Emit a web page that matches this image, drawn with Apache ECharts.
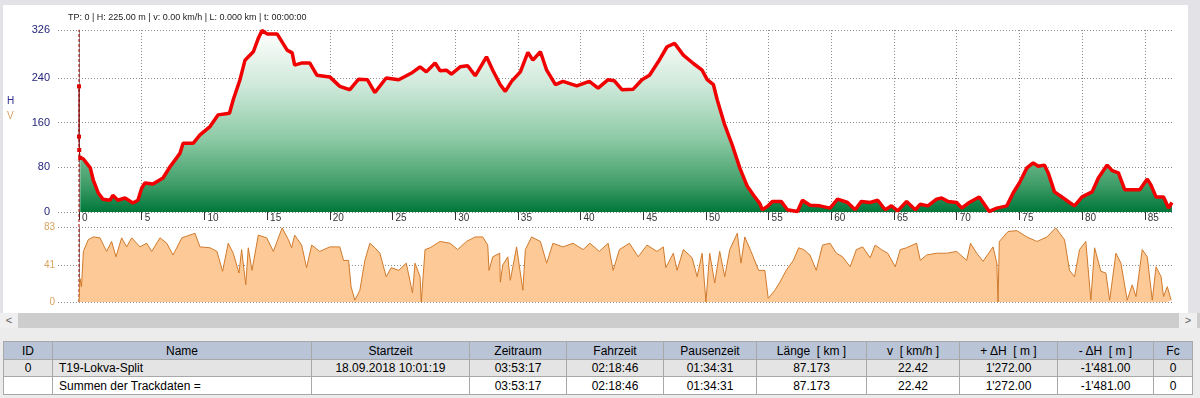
<!DOCTYPE html>
<html>
<head>
<meta charset="utf-8">
<script src="https://cdn.jsdelivr.net/npm/echarts@6/dist/echarts.min.js"></script>
<style>
html, body { margin: 0; padding: 0; }
body {
  width: 1200px; height: 398px; position: relative; overflow: hidden;
  background: #e3e3e7;
  font-family: "Liberation Sans", Arial, sans-serif;
}
#paper { position: absolute; left: 3px; top: 5px; width: 1185px; height: 308px; background: #fff; }
#chart { position: absolute; left: 0; top: 0; width: 1200px; height: 313px; }
#scroll { position: absolute; left: 0; top: 313px; width: 1200px; height: 15px; background: #cdcdcd; }
#scroll .btn { position: absolute; top: 0; width: 18px; height: 15px; background: #efefef; color: #606060;
  font-size: 11px; line-height: 15px; text-align: center; }
#panel { position: absolute; left: 0; top: 328px; width: 1200px; height: 70px; background: #ececec; }
table.grid {
  position: absolute; left: 3px; top: 341px; width: 1189px;
  border-collapse: collapse; table-layout: fixed; font-size: 12px; color: #000;
}
table.grid td, table.grid th {
  border: 1px solid #a8a8a8; padding: 0; text-align: center; font-weight: normal;
  white-space: nowrap; overflow: hidden;
}
table.grid th { background: #b9c4d7; height: 17px; }
table.grid tr.r1 td { background: #e4e4e4; height: 16px; }
table.grid tr.r2 td { background: #fff; height: 17px; }
table.grid td.name { text-align: left; padding-left: 6px; }
</style>
</head>
<body>
<div id="paper"></div>
<div id="chart"></div>
<div id="scroll"><div class="btn" style="left:0">&lt;</div><div class="btn" style="right:3px">&gt;</div></div>
<div id="panel"></div>
<table class="grid">
  <colgroup>
    <col style="width:49px"><col style="width:259px"><col style="width:158px"><col style="width:97px">
    <col style="width:97px"><col style="width:93px"><col style="width:110px"><col style="width:93px">
    <col style="width:98px"><col style="width:96px"><col style="width:39px">
  </colgroup>
  <tr><th>ID</th><th>Name</th><th>Startzeit</th><th>Zeitraum</th><th>Fahrzeit</th><th>Pausenzeit</th>
      <th>Länge &nbsp;[ km ]</th><th>v &nbsp;[ km/h ]</th><th>+ ΔH &nbsp;[ m ]</th><th>- ΔH &nbsp;[ m ]</th><th>Fc</th></tr>
  <tr class="r1"><td>0</td><td class="name">T19-Lokva-Split</td><td>18.09.2018 10:01:19</td><td>03:53:17</td>
      <td>02:18:46</td><td>01:34:31</td><td>87.173</td><td>22.42</td><td>1'272.00</td><td>-1'481.00</td><td>0</td></tr>
  <tr class="r2"><td></td><td class="name">Summen der Trackdaten =</td><td></td><td>03:53:17</td>
      <td>02:18:46</td><td>01:34:31</td><td>87.173</td><td>22.42</td><td>1'272.00</td><td>-1'481.00</td><td>0</td></tr>
</table>

<script>
// Höhenprofil: Distanz [km] / Höhe [m]
var elevKm = [
  0, 0, 0.02, 0.1, 0.35, 0.9, 1.14, 1.54, 1.9, 2.47, 2.7, 3.1, 3.67, 4.3, 4.7, 5.0, 5.26, 5.9, 6.7, 7.26,
  8.05, 8.3, 9.1, 9.65, 10.45, 11.1, 12.0, 12.3, 12.84, 13.24, 13.9, 14.3, 14.6, 15.0, 15.8, 16.6, 17.0, 17.2, 17.8, 18.4,
  18.97, 20.0, 20.8, 21.6, 22.3, 23.0, 23.6, 24.5, 25.5, 26.6, 27.2, 27.7, 28.4, 28.8, 29.3, 29.7, 30.4, 31.0, 31.6, 32.5,
  33.0, 33.6, 34.0, 34.5, 35.2, 35.8, 36.2, 36.8, 37.3, 38.0, 38.6, 39.7, 40.7, 41.4, 42.2, 42.7, 43.3, 44.2, 44.9, 45.5,
  46.2, 46.9, 47.5, 48.2, 49.0, 49.7, 50.1, 50.6, 50.9, 51.5, 52.1, 52.7, 53.3, 53.8, 54.3, 54.5, 54.9, 55.3, 56.0, 56.5,
  57.3, 57.7, 58.3, 59.1, 59.9, 60.5, 61.3, 61.9, 62.4, 63.1, 63.7, 64.3, 64.8, 65.3, 66.0, 66.7, 67.1, 67.7, 68.4, 68.8,
  69.3, 70.0, 70.4, 71.0, 71.8, 72.6, 73.2, 74.0, 74.5, 75.0, 75.6, 76.1, 76.5, 77.0, 77.3, 77.8, 78.5, 79.0, 79.4, 80.0,
  80.8, 81.3, 82.0, 82.4, 82.9, 83.4, 83.9, 84.6, 85.2, 85.5, 85.9, 86.5, 86.9, 87.17
];
var elevM = [
  225, 135, 111, 97, 95, 79, 57, 34, 23, 21, 30, 21, 25, 16, 21, 43, 52, 50, 61, 81,
  105, 123, 123, 138, 153, 174, 177, 201, 237, 272, 287, 311, 325, 319, 319, 290, 285, 263, 267, 267,
  245, 242, 225, 219, 238, 237, 214, 240, 237, 250, 260, 251, 267, 253, 254, 247, 260, 262, 244, 278,
  254, 228, 216, 234, 251, 286, 272, 287, 254, 228, 234, 226, 234, 222, 237, 235, 219, 220, 237, 245,
  269, 296, 302, 281, 266, 254, 237, 228, 201, 156, 120, 79, 46, 30, 15, 4, 10, 19, 19, 4,
  1, 21, 12, 11, 7, 23, 17, 4, 19, 17, 21, 4, 11, 2, 19, 4, 14, 11, 23, 25,
  19, 17, 7, 17, 27, 1, 7, 11, 34, 52, 79, 88, 82, 84, 70, 36, 25, 17, 11, 27,
  36, 61, 84, 74, 70, 40, 40, 40, 59, 48, 27, 27, 7, 17
];

// Geschwindigkeit: Distanz [km] / v [km/h]
var speedKm = [
  0, 0.08, 0.2, 0.35, 0.74, 1.14, 1.67, 2.2, 2.6, 2.95, 3.4, 3.8, 4.2, 4.86, 5.4, 5.8, 6.46, 7.0, 7.5, 8.2,
  9.25, 9.65, 10.45, 11.0, 11.45, 11.9, 12.3, 12.76, 12.97, 13.3, 13.5, 13.8, 14.3, 14.97, 15.5, 16.2, 16.7, 16.96, 17.2, 17.76,
  18.15, 18.56, 19.2, 20.0, 20.8, 21.1, 21.5, 21.7, 22.0, 22.4, 22.8, 23.2, 23.6, 24.0, 24.5, 24.9, 25.5, 26.1, 26.6, 26.8,
  27.2, 27.3, 27.6, 28.0, 28.8, 29.6, 30.2, 30.9, 31.6, 32.2, 32.6, 32.7, 33.0, 33.55, 33.6, 33.8, 34.2, 34.4, 34.9, 35.4,
  35.6, 36.1, 36.8, 37.3, 37.8, 38.6, 39.4, 40.2, 40.75, 41.5, 42.2, 42.6, 43.1, 43.9, 44.6, 45.3, 46.1, 46.6, 46.8, 47.4,
  47.7, 48.2, 48.9, 49.3, 49.7, 50.0, 50.3, 50.7, 51.1, 51.5, 51.9, 52.5, 52.8, 53.1, 53.6, 54.2, 54.7, 54.97, 55.5, 55.9,
  56.4, 56.97, 57.4, 57.8, 58.3, 58.8, 59.3, 59.9, 60.4, 60.9, 61.5, 62.0, 62.5, 63.1, 63.5, 64.0, 64.5, 65.1, 65.5, 66.0,
  66.8, 67.1, 67.6, 68.4, 69.2, 70.0, 70.8, 71.1, 71.6, 72.1, 72.9, 73.2, 73.3, 73.4, 74.1, 74.8, 75.6, 76.4, 77.2, 77.9,
  78.6, 79.0, 79.4, 79.8, 80.3, 80.7, 81.0, 81.5, 81.9, 82.2, 82.7, 83.1, 83.6, 84.0, 84.3, 84.8, 85.2, 85.6, 85.9, 86.3,
  86.5, 86.8, 87.1
];
var speedKmh = [
  0, 26, 17, 56, 69, 72, 71, 56, 67, 50, 71, 61, 71, 61, 65, 56, 71, 65, 52, 71,
  76, 61, 60, 56, 34, 65, 54, 32, 58, 19, 60, 35, 74, 71, 56, 82, 69, 60, 74, 63,
  38, 63, 56, 61, 61, 46, 46, 17, 2, 13, 46, 65, 60, 54, 28, 38, 35, 43, 10, 43,
  28, 0, 58, 60, 67, 65, 58, 67, 72, 72, 63, 35, 50, 54, 22, 41, 50, 24, 61, 13,
  58, 72, 67, 43, 65, 61, 65, 58, 65, 56, 65, 35, 58, 65, 50, 63, 56, 61, 38, 54,
  35, 58, 49, 28, 54, 0, 54, 21, 56, 28, 58, 76, 43, 72, 56, 35, 35, 4, 13, 22,
  35, 46, 60, 58, 52, 35, 63, 65, 54, 50, 39, 58, 61, 49, 63, 58, 54, 39, 58, 60,
  65, 46, 52, 54, 54, 56, 46, 65, 54, 45, 61, 43, 0, 67, 78, 79, 72, 67, 72, 82,
  69, 35, 28, 58, 67, 2, 60, 34, 32, 2, 54, 43, 2, 19, 6, 58, 50, 2, 39, 28,
  6, 17, 2
];

// Achsenbeschriftung
var kmTicks = [0, 5, 10, 15, 20, 25, 30, 35, 40, 45, 50, 55, 60, 65, 70, 75, 80, 85];
var elevTicks = [0, 80, 160, 240, 326];
var speedTicks = [0, 41, 83];
var cursorKm = 0;
var infoText = 'TP: 0 | H: 225.00 m | v: 0.00 km/h | L: 0.000 km | t: 00:00:00';

var kmMin = -1.675;
var kmMax = 87.173;
var gridGray = '#8c8c8c';
var font = '"Liberation Sans", Arial, sans-serif';
// die ersten Trackpunkte werden nur dünn verbunden
var thinCount = 4;

var myChart = echarts.init(document.getElementById('chart'), null, { renderer: 'canvas' });

var elevData = elevKm.map(function (km, i) { return [km, elevM[i]]; });
var speedData = speedKm.map(function (km, i) { return [km, speedKmh[i]]; });

var option = {
  animation: false,
  backgroundColor: 'transparent',
  textStyle: { fontFamily: font },
  title: {
    text: infoText,
    left: 63,
    top: 8,
    textStyle: { fontSize: 9, fontWeight: 'normal', color: '#222', fontFamily: font }
  },
  graphic: [
    { type: 'text', left: 7, top: 96, style: { text: 'H', fontSize: 10, fill: '#2c2c8c', fontFamily: font } },
    { type: 'text', left: 7, top: 111, style: { text: 'V', fontSize: 10, fill: '#d9a060', fontFamily: font } }
  ],
  grid: [
    { left: 58, right: 28, top: 30, height: 182 },
    { left: 58, right: 28, top: 227, height: 75 },
    { left: 58, right: 28, top: 30, height: 272 }
  ],
  xAxis: [
    {
      type: 'value', gridIndex: 0, min: kmMin, max: kmMax, interval: 5,
      axisLine: { show: false },
      axisTick: { show: true, customValues: kmTicks, length: 8, lineStyle: { color: '#333', width: 1 } },
      axisLabel: {
        customValues: kmTicks, color: '#333', fontSize: 10, margin: 1,
        align: 'left', verticalAlign: 'top', padding: [0, 0, 0, 3]
      },
      splitLine: { show: true, lineStyle: { color: gridGray, type: [1, 2], width: 1 } }
    },
    {
      type: 'value', gridIndex: 1, min: kmMin, max: kmMax,
      axisLine: { show: false }, axisTick: { show: false }, axisLabel: { show: false },
      splitLine: { show: false }
    },
    {
      type: 'value', gridIndex: 2, min: kmMin, max: kmMax, show: false
    }
  ],
  yAxis: [
    {
      type: 'value', gridIndex: 0, min: 0, max: 326, interval: 80,
      axisLine: { show: true, lineStyle: { color: '#8a8a8a' } },
      axisTick: { show: false, customValues: elevTicks },
      axisLabel: { customValues: elevTicks, color: '#24247a', fontSize: 11, margin: 8 },
      splitLine: { show: true, lineStyle: { color: gridGray, type: [1, 2], width: 1 } }
    },
    {
      type: 'value', gridIndex: 1, min: 0, max: 83, interval: 41.5,
      axisLine: { show: true, lineStyle: { color: '#8a8a8a' } },
      axisTick: { show: false, customValues: speedTicks },
      axisLabel: { customValues: speedTicks, color: '#d9a363', fontSize: 10, margin: 3 },
      splitLine: { show: true, lineStyle: { color: gridGray, type: [1, 2], width: 1 } }
    },
    {
      type: 'value', gridIndex: 2, min: 0, max: 1, show: false
    }
  ],
  series: [
    {
      // Cursor bei TP 0
      name: 'cursor',
      type: 'line',
      xAxisIndex: 2,
      yAxisIndex: 2,
      data: [[cursorKm, 0], [cursorKm, 1]],
      showSymbol: false,
      lineStyle: { width: 1, color: '#a80000', type: [3, 2] },
      z: 2
    },
    {
      name: 'H',
      type: 'line',
      xAxisIndex: 0,
      yAxisIndex: 0,
      data: elevData.slice(thinCount - 1),
      showSymbol: false,
      itemStyle: { color: '#e80000' },
      lineStyle: { width: 3.5, color: '#f00000' },
      areaStyle: {
        opacity: 1,
        color: new echarts.graphic.LinearGradient(0, 0, 0, 1, [
          { offset: 0, color: '#ffffff' },
          { offset: 0.3, color: '#cfe9da' },
          { offset: 0.6, color: '#8ccaa5' },
          { offset: 0.85, color: '#3f9d67' },
          { offset: 1, color: '#00773a' }
        ])
      },
      z: 3
    },
    {
      name: 'H start',
      type: 'line',
      xAxisIndex: 0,
      yAxisIndex: 0,
      data: elevData.slice(0, thinCount),
      symbol: 'rect',
      symbolSize: 4,
      itemStyle: { color: '#e00000' },
      lineStyle: { width: 1, color: '#800000' },
      z: 4
    },
    {
      name: 'V',
      type: 'line',
      xAxisIndex: 1,
      yAxisIndex: 1,
      data: speedData,
      showSymbol: false,
      lineStyle: { width: 1, color: '#d07a2c' },
      areaStyle: { opacity: 1, color: '#fdc996' },
      z: 3
    }
  ]
};

myChart.setOption(option);
</script>
</body>
</html>
